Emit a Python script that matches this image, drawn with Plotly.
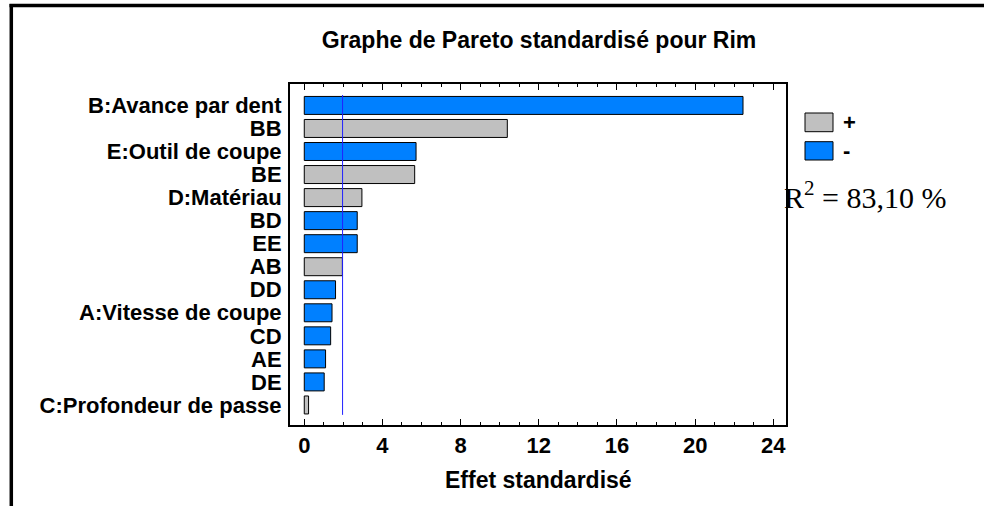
import plotly.graph_objects as go

categories = ["B:Avance par dent", "BB", "E:Outil de coupe", "BE", "D:Matériau", "BD", "EE",
              "AB", "DD", "A:Vitesse de coupe", "CD", "AE", "DE", "C:Profondeur de passe"]
effects = [22.45, 10.39, 5.72, 5.65, 2.95, 2.71, 2.71, 1.95, 1.60, 1.42, 1.35, 1.09, 1.02, 0.22]
signs = ["-", "+", "-", "+", "+", "-", "-", "+", "-", "-", "-", "-", "-", "+"]
critical_value = 1.96
x_ticks = [0, 4, 8, 12, 16, 20, 24]
r2_text = "R<sup>2</sup> = 83,10 %"
title_text = "Graphe de Pareto standardisé pour Rim"
x_title = "Effet standardisé"

POS_COLOR = "#C0C0C0"
NEG_COLOR = "#0080FF"

W, H = 984, 506
L, R, T, B = 290, 786, 84, 425  # plot frame in pixels


def px(xp):
    return (xp - L) / (R - L)


def py(yp):
    return (B - yp) / (B - T)


fig = go.Figure()
for sgn, col in (("+", POS_COLOR), ("-", NEG_COLOR)):
    ys = [c for c, s in zip(categories, signs) if s == sgn]
    xs = [v for v, s in zip(effects, signs) if s == sgn]
    fig.add_trace(go.Bar(
        x=xs, y=ys, orientation="h", name=sgn, width=0.78,
        marker=dict(color=col, line=dict(color="black", width=1)),
        showlegend=False, hoverinfo="x+y",
    ))

fig.add_shape(type="line", xref="x", yref="y", x0=critical_value, x1=critical_value,
              y0=-0.45, y1=len(categories) - 1 + 0.43,
              line=dict(color="#2020FF", width=1))

# legend boxes
for (y0, y1, col, lab) in ((113, 131.7, POS_COLOR, "+"), (141.7, 160, NEG_COLOR, "-")):
    fig.add_shape(type="rect", xref="paper", yref="paper",
                  x0=px(805), x1=px(833), y0=py(y1), y1=py(y0),
                  fillcolor=col, line=dict(color="black", width=1))
    fig.add_annotation(xref="paper", yref="paper", x=px(841), y=py((y0 + y1) / 2),
                       text="<b>%s</b>" % lab, showarrow=False, xanchor="left", yanchor="middle",
                       font=dict(family="Liberation Sans, Arial", size=22, color="black"))

fig.add_annotation(xref="paper", yref="paper", x=px(782), y=py(195),
                   text=r2_text, showarrow=False, xanchor="left", yanchor="middle",
                   font=dict(family="Liberation Serif, Times New Roman", size=30, color="black"))

fig.add_annotation(xref="paper", yref="paper", x=0.5, y=py(480),
                   text="<b>%s</b>" % x_title, showarrow=False, xanchor="center", yanchor="middle",
                   font=dict(family="Liberation Sans, Arial", size=23, color="black"))

# outer frame (top and left edges)
fig.add_shape(type="line", xref="paper", yref="paper", x0=px(9.5), x1=px(984), y0=py(5.5), y1=py(5.5),
              line=dict(color="black", width=3.5))
fig.add_shape(type="line", xref="paper", yref="paper", x0=px(11.3), x1=px(11.3), y0=py(4), y1=py(506),
              line=dict(color="black", width=3.5))

fig.update_layout(
    width=W, height=H,
    margin=dict(l=L, r=W - R, t=T, b=H - B, pad=0),
    paper_bgcolor="white", plot_bgcolor="white",
    barmode="overlay",
    title=dict(text="<b>%s</b>" % title_text, x=539 / W, y=1 - 40 / H, xanchor="center", yanchor="middle",
               font=dict(family="Liberation Sans, Arial", size=23, color="black")),
    font=dict(family="Liberation Sans, Arial", color="black"),
    xaxis=dict(range=[-0.73, 24.65], tickvals=x_ticks, ticktext=["<b>%d</b>" % v for v in x_ticks],
               ticks="inside", ticklen=6, tickwidth=1, tickcolor="black",
               minor=dict(dtick=1, ticks="inside", ticklen=3, tickwidth=1, tickcolor="black"),
               showline=True, linecolor="black", linewidth=2, mirror="allticks",
               showgrid=False, zeroline=False,
               tickfont=dict(family="Liberation Sans, Arial", size=22, color="black")),
    yaxis=dict(categoryorder="array", categoryarray=categories,
               tickvals=categories, ticktext=["<b>%s</b>" % c for c in categories],
               range=[len(categories) - 1 + 0.87, -0.93],
               ticks="", showline=True, linecolor="black", linewidth=2, mirror=True,
               showgrid=False, zeroline=False, ticklabelstandoff=2,
               tickfont=dict(family="Liberation Sans, Arial", size=22, color="black")),
)

fig.write_html("out.html", config={"displayModeBar": False},
               post_script="document.body.style.margin='0';document.body.style.overflow='hidden';")
